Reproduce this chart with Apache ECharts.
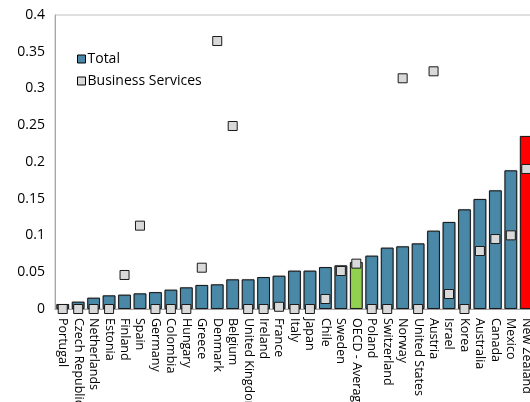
<!DOCTYPE html>
<html><head><meta charset="utf-8">
<script src="https://cdn.jsdelivr.net/npm/echarts@6/dist/echarts.min.js"></script>
<style>html,body{margin:0;padding:0;background:#fff;overflow:hidden}#c{width:530px;height:402px}</style>
</head><body><div id="c"></div>
<script>
const categories = ["Portugal","Czech Republic","Netherlands","Estonia","Finland","Spain","Germany","Colombia","Hungary","Greece","Denmark","Belgium","United Kingdom","Ireland","France","Italy","Japan","Chile","Sweden","OECD - Average","Poland","Switzerland","Norway","United States","Austria","Israel","Korea","Australia","Canada","Mexico","New Zealand"];
const totalValues = [0.0068,0.0100,0.0154,0.0186,0.0195,0.0213,0.0230,0.0263,0.0295,0.0327,0.0336,0.0404,0.0404,0.0435,0.0453,0.0522,0.0522,0.0571,0.0594,0.0639,0.0726,0.0835,0.0853,0.0893,0.1066,0.1184,0.1356,0.1497,0.1615,0.1887,0.2354];
const businessValues = [0,0,0,0,0.0463,0.1134,0,0,0,0.0562,0.3646,0.249,0,0,0.003,0,0,0.0136,0.0517,0.0617,0,0,0.3139,0,0.3234,0.0204,0,0.0789,0.0952,0.1002,0.1905];
const yTicks = [0,0.05,0.1,0.15,0.2,0.25,0.3,0.35,0.4];
const highlight = {"OECD - Average":"#92d050","New Zealand":"#ff0000"};

const font = "Open Sans";
const chart = echarts.init(document.getElementById('c'), null, {renderer:'canvas', width:530, height:402});
chart.setOption({
  animation:false,
  textStyle:{fontFamily:font},
  grid:{left:55, top:15, width:479, height:294, show:true, borderColor:'#c0c0c0', borderWidth:1,
        containLabel:false, outerBoundsMode:'none'},
  legend:{
    left:72, top:47, orient:'vertical', itemGap:8, itemWidth:8, itemHeight:8,
    textStyle:{fontFamily:font, fontSize:14, color:'#000', padding:[0,0,0,-3]},
    data:[
      {name:'Total', icon:'rect', itemStyle:{color:'#4a88a8', borderColor:'#000', borderWidth:1}},
      {name:'Business Services', icon:'rect', itemStyle:{color:'#d9d9d9', borderColor:'#000', borderWidth:1}}
    ]
  },
  xAxis:{
    type:'category', data:categories,
    axisLine:{show:true, lineStyle:{color:'#a6a6a6'}},
    axisTick:{show:false},
    axisLabel:{rotate:-90, interval:0, fontSize:12.5, color:'#000', fontFamily:font, margin:9}
  },
  yAxis:{
    type:'value', min:0, max:0.4, interval:0.05,
    splitLine:{show:false},
    axisLine:{show:true, lineStyle:{color:'#a6a6a6'}},
    axisTick:{show:false},
    axisLabel:{fontSize:14, color:'#000', fontFamily:font, margin:10,
      formatter:v=>{const t=yTicks.find(x=>Math.abs(x-v)<1e-9); return t===undefined?'':String(+t.toFixed(2));}}
  },
  series:[
    {name:'Total', type:'bar', barCategoryGap:'17%',
     data:totalValues.map((v,i)=>({value:v, itemStyle:{color:highlight[categories[i]]||'#4a88a8'}})),
     itemStyle:{borderColor:'#1a1a1a', borderWidth:1, shadowColor:'rgba(0,0,0,0.35)', shadowBlur:1},
     z:2},
    {name:'Business Services', type:'scatter', symbol:'rect', symbolSize:9,
     data:businessValues,
     itemStyle:{color:'#d9d9d9', borderColor:'#1a1a1a', borderWidth:1, opacity:1},
     z:3}
  ]
});
</script></body></html>
